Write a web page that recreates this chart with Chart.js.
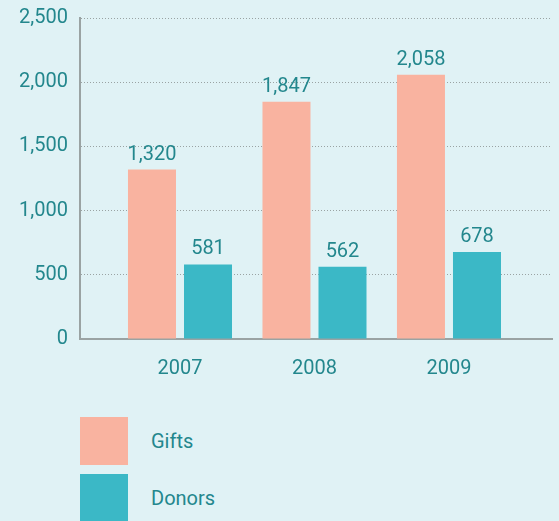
<!DOCTYPE html>
<html>
<head>
<meta charset="utf-8">
<script src="https://cdn.jsdelivr.net/npm/chart.js@4"></script>
<style>
  html, body { margin: 0; padding: 0; background: #e0f2f5; }
  #wrap { position: relative; width: 559px; height: 521px; overflow: hidden; }
  #legend { position: absolute; left: 80px; top: 417px; font-family: Roboto, sans-serif; font-size: 20px; color: #23878d; }
  .item { display: flex; align-items: center; height: 48px; margin-bottom: 9px; }
  .box { width: 48px; height: 48px; margin-right: 23px; }
</style>
</head>
<body>
<div id="wrap">
  <canvas id="chart" width="559" height="385"></canvas>
  <div id="legend"></div>
</div>
<script>
const years = ["2007", "2008", "2009"];
const gifts = [1320, 1847, 2058];
const donors = [581, 562, 678];
const seriesNames = ["Gifts", "Donors"];
const seriesColors = ["#f9b3a0", "#3bb8c6"];

const textColor = "#23878d";
const fmt = v => v.toLocaleString("en-US");

const valueLabels = {
    id: "valueLabels",
    afterDatasetsDraw(chart) {
        const ctx = chart.ctx;
        ctx.save();
        ctx.font = "20px Roboto, sans-serif";
        ctx.fillStyle = textColor;
        ctx.textAlign = "center";
        ctx.textBaseline = "alphabetic";
        chart.data.datasets.forEach((ds, i) => {
            chart.getDatasetMeta(i).data.forEach((bar, j) => {
                ctx.fillText(fmt(ds.data[j].y), bar.x, bar.y - 10);
            });
        });
        ctx.restore();
    }
};

const toPoints = arr => arr.map((v, i) => ({x: i, y: v}));

new Chart(document.getElementById("chart"), {
    type: "bar",
    data: {
        datasets: [
            {label: seriesNames[0], data: toPoints(gifts), backgroundColor: seriesColors[0]},
            {label: seriesNames[1], data: toPoints(donors), backgroundColor: seriesColors[1]}
        ]
    },
    options: {
        responsive: false,
        animation: false,
        categoryPercentage: 0.833,
        barPercentage: 0.857,
        layout: {padding: {top: 0, right: 7, left: 0, bottom: 0}},
        plugins: {legend: {display: false}, tooltip: {enabled: false}},
        scales: {
            x: {
                type: "linear",
                offset: false,
                min: -0.7435,
                max: 2.766,
                afterBuildTicks: s => { s.ticks = years.map((_, i) => ({value: i})); },
                afterFit: s => { s.height = 46; },
                grid: {display: false, offset: false},
                border: {display: true, color: "#9aa3a3", width: 2},
                ticks: {
                    color: textColor,
                    font: {family: "Roboto, sans-serif", size: 20},
                    padding: 10,
                    callback: v => years[v]
                }
            },
            y: {
                min: 0,
                max: 2500,
                afterFit: s => { s.width = 80; s.paddingTop = 18; s.paddingBottom = 0; },
                grid: {color: "#9aa3a3", lineWidth: 1, drawTicks: false},
                // in v4 border.dash styles the grid lines; the axis line stays solid
                border: {display: true, color: "#9aa3a3", width: 2, dash: [1, 2]},
                ticks: {
                    stepSize: 500,
                    color: textColor,
                    font: {family: "Roboto, sans-serif", size: 20},
                    padding: 12,
                    callback: v => fmt(v)
                }
            }
        }
    },
    plugins: [valueLabels]
});

const legend = document.getElementById("legend");
seriesNames.forEach((name, i) => {
    const item = document.createElement("div");
    item.className = "item";
    item.innerHTML = '<div class="box" style="background:' + seriesColors[i] + '"></div><span>' + name + '</span>';
    legend.appendChild(item);
});
</script>
</body>
</html>
